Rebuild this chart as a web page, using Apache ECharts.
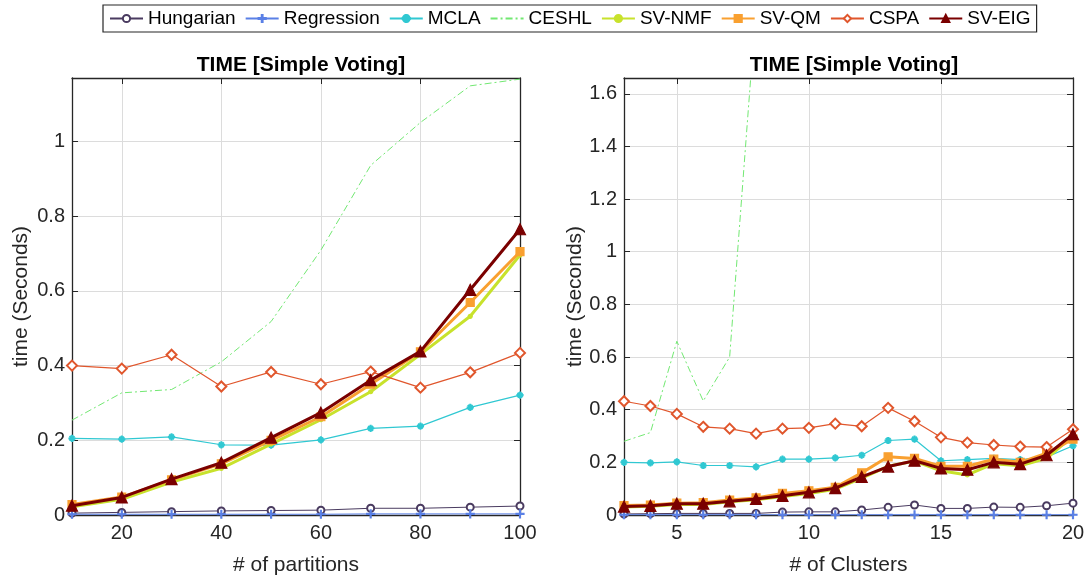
<!DOCTYPE html>
<html>
<head>
<meta charset="utf-8">
<script src="https://cdn.jsdelivr.net/npm/echarts@6/dist/echarts.min.js"></script>
<style>
html, body { margin: 0; padding: 0; background: #fff; }
#main { width: 1088px; height: 581px; }
</style>
</head>
<body>
<div id="main"></div>
<script>
// left panel: time vs number of partitions
var partitions = [10, 20, 30, 40, 50, 60, 70, 80, 90, 100];
var hungarianP = [0.005, 0.007, 0.009, 0.011, 0.012, 0.013, 0.018, 0.018, 0.021, 0.024];
var regressionP = [0.002, 0.002, 0.002, 0.002, 0.002, 0.002, 0.003, 0.003, 0.003, 0.003];
var mclaP = [0.205, 0.203, 0.209, 0.188, 0.187, 0.201, 0.232, 0.238, 0.288, 0.321];
var ceshlP = [0.254, 0.327, 0.336, 0.41, 0.518, 0.709, 0.936, 1.051, 1.149, 1.167];
var svnmfP = [0.022, 0.042, 0.088, 0.125, 0.19, 0.255, 0.33, 0.43, 0.532, 0.696];
var svqmP = [0.028, 0.048, 0.094, 0.137, 0.2, 0.263, 0.35, 0.437, 0.569, 0.705];
var cspaP = [0.4, 0.392, 0.429, 0.344, 0.383, 0.35, 0.384, 0.341, 0.382, 0.434];
var sveigP = [0.025, 0.047, 0.096, 0.14, 0.207, 0.274, 0.361, 0.438, 0.603, 0.765];

// right panel: time vs number of clusters
var clusters = [3, 4, 5, 6, 7, 8, 9, 10, 11, 12, 13, 14, 15, 16, 17, 18, 19, 20];
var hungarianC = [0.004, 0.005, 0.006, 0.006, 0.006, 0.006, 0.011, 0.012, 0.012, 0.019, 0.029, 0.038, 0.025, 0.025, 0.03, 0.029, 0.035, 0.045];
var regressionC = [0.001, 0.001, 0.001, 0.001, 0.001, 0.001, 0.001, 0.001, 0.001, 0.001, 0.001, 0.001, 0.001, 0.001, 0.001, 0.001, 0.001, 0.001];
var mclaC = [0.2, 0.198, 0.202, 0.188, 0.188, 0.183, 0.212, 0.212, 0.217, 0.227, 0.283, 0.288, 0.206, 0.21, 0.215, 0.21, 0.22, 0.263];
var ceshlC = [0.28, 0.313, 0.66, 0.433, 0.6, 1.93, 2.41, 2.86, 3.12, 3.57, 4.05, 4.38, 4.71, 5.26, 5.58, 6.03, 6.47, 6.95];
var svnmfC = [0.03, 0.033, 0.04, 0.04, 0.05, 0.058, 0.07, 0.082, 0.098, 0.14, 0.185, 0.205, 0.168, 0.152, 0.195, 0.187, 0.215, 0.3];
var svqmC = [0.036, 0.038, 0.045, 0.047, 0.057, 0.065, 0.082, 0.092, 0.105, 0.16, 0.221, 0.215, 0.185, 0.185, 0.212, 0.2, 0.235, 0.288];
var cspaC = [0.432, 0.414, 0.384, 0.335, 0.328, 0.309, 0.328, 0.331, 0.347, 0.337, 0.407, 0.356, 0.295, 0.275, 0.266, 0.26, 0.258, 0.326];
var sveigC = [0.032, 0.035, 0.043, 0.043, 0.052, 0.061, 0.073, 0.086, 0.102, 0.145, 0.184, 0.206, 0.177, 0.172, 0.2, 0.193, 0.227, 0.307];

var methodNames = ['Hungarian', 'Regression', 'MCLA', 'CESHL', 'SV-NMF', 'SV-QM', 'CSPA', 'SV-EIG'];
var leftData = [hungarianP, regressionP, mclaP, ceshlP, svnmfP, svqmP, cspaP, sveigP];
var rightData = [hungarianC, regressionC, mclaC, ceshlC, svnmfC, svqmC, cspaC, sveigC];

var plusPath = 'path://M4.4,0h1.2v10h-1.2z M0,4.4h10v1.2h-10z';
var starPath = 'path://M4.3,0h1.4v10h-1.4z M0,4.3h10v1.4h-10z M1.2,2.2l1-1l6.6,6.6l-1,1z M7.8,1.2l1,1l-6.6,6.6l-1,-1z';

var styles = [
    { color: '#4a3b60', width: 1, symbol: 'emptyCircle', size: 7 },
    { color: '#5a80e6', width: 1, symbol: plusPath, size: 8 },
    { color: '#30c8d2', width: 1.2, symbol: starPath, size: 6 },
    { color: '#72e872', width: 1, symbol: 'none', size: 0, type: [7, 3, 2, 3] },
    { color: '#c8e22c', width: 3, symbol: 'circle', size: 4 },
    { color: '#f9a030', width: 3, symbol: 'rect', size: 8 },
    { color: '#e0562c', width: 1.2, symbol: 'emptyDiamond', size: 10 },
    { color: '#7a0000', width: 3, symbol: 'triangle', size: 11 }
];

var textColor = '#262626';
var font = 'Liberation Sans, Arial, Helvetica, sans-serif';

function makeSeries(dataList, idx) {
    return dataList.map(function(d, i) {
        var s = styles[i];
        return {
            name: methodNames[i],
            type: 'line',
            xAxisIndex: idx,
            yAxisIndex: idx,
            data: d,
            symbol: s.symbol,
            symbolSize: s.size,
            showSymbol: s.symbol !== 'none',
            clip: true,
            lineStyle: { color: s.color, width: s.width, type: s.type || 'solid' },
            itemStyle: { color: s.color, borderColor: s.color, borderWidth: 1.2 },
            animation: false,
            z: 2 + i
        };
    });
}

function xAxisFor(cats, grid, step, name, gap, top) {
    var every = function(index, value) { return Number(value) % step === 0; };
    return {
        type: 'category',
        gridIndex: grid,
        position: top ? 'top' : 'bottom',
        data: cats,
        boundaryGap: false,
        name: top ? '' : name,
        nameLocation: 'middle',
        nameGap: gap,
        nameTextStyle: { color: textColor, fontSize: 21, fontFamily: font },
        axisLine: { show: true, onZero: false, lineStyle: { color: textColor, width: 1.3 } },
        axisTick: { show: true, inside: true, length: 6, interval: every, lineStyle: { color: textColor } },
        axisLabel: { show: !top, interval: every, color: textColor, fontSize: 20, fontFamily: font, margin: 8 },
        splitLine: { show: !top, interval: every, lineStyle: { color: '#dcdcdc', width: 1 } }
    };
}

function yAxisFor(grid, max, gap, right) {
    return {
        type: 'value',
        gridIndex: grid,
        position: right ? 'right' : 'left',
        min: 0,
        max: max,
        interval: 0.2,
        name: right ? '' : 'time (Seconds)',
        nameLocation: 'middle',
        nameGap: gap,
        nameTextStyle: { color: textColor, fontSize: 21, fontFamily: font },
        axisLine: { show: true, onZero: false, lineStyle: { color: textColor, width: 1.3 } },
        axisTick: { show: true, inside: true, length: 6, lineStyle: { color: textColor } },
        axisLabel: {
            show: !right, color: textColor, fontSize: 20, fontFamily: font, margin: 7,
            showMaxLabel: false,
            formatter: function(v) { return String(+v.toFixed(2)); }
        },
        splitLine: { show: !right, showMaxLine: false, lineStyle: { color: '#dcdcdc', width: 1 } }
    };
}

var legendItems = methodNames.map(function(n) {
    // CESHL has no markers, so its legend sample is the dash-dot line only
    if (n === 'CESHL') return { name: n, itemStyle: { opacity: 0 } };
    return { name: n };
});

var myChart = echarts.init(document.getElementById('main'));

var option = {
    backgroundColor: '#fff',
    animation: false,
    title: [
        { text: 'TIME [Simple Voting]', left: 296, top: 50, textAlign: 'center',
          textStyle: { color: '#000', fontSize: 21, fontWeight: 'bold', fontFamily: font } },
        { text: 'TIME [Simple Voting]', left: 849, top: 50, textAlign: 'center',
          textStyle: { color: '#000', fontSize: 21, fontWeight: 'bold', fontFamily: font } }
    ],
    legend: {
        data: legendItems,
        left: 103,
        top: 5,
        padding: [4, 6, 4, 6],
        itemGap: 9,
        itemWidth: 33,
        itemHeight: 9,
        borderColor: textColor,
        borderWidth: 1.2,
        backgroundColor: '#fff',
        textStyle: { color: '#000', fontSize: 19, fontFamily: font }
    },
    grid: [
        { left: 72, right: 568, top: 78, bottom: 65 },
        { left: 624, right: 15, top: 78, bottom: 65 }
    ],
    xAxis: [
        xAxisFor(partitions, 0, 20, '# of partitions', 40, false),
        xAxisFor(clusters, 1, 5, '# of Clusters', 40, false),
        xAxisFor(partitions, 0, 20, '', 0, true),
        xAxisFor(clusters, 1, 5, '', 0, true)
    ],
    yAxis: [
        yAxisFor(0, 1.17, 40, false),
        yAxisFor(1, 1.66, 34, false),
        yAxisFor(0, 1.17, 0, true),
        yAxisFor(1, 1.66, 0, true)
    ],
    series: makeSeries(leftData, 0).concat(makeSeries(rightData, 1))
};

myChart.setOption(option);
</script>
</body>
</html>
